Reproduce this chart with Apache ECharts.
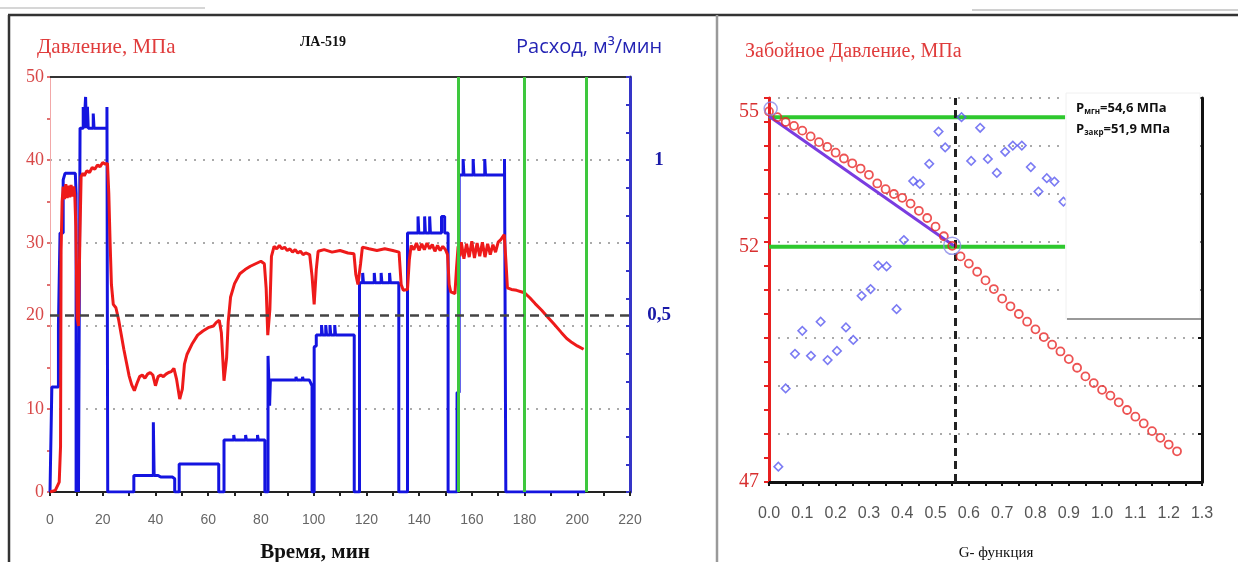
<!DOCTYPE html>
<html><head><meta charset="utf-8">
<script src="https://cdn.jsdelivr.net/npm/echarts@6/dist/echarts.min.js"></script>
<style>html,body{margin:0;padding:0;background:#fff}#c{width:1238px;height:562px}</style>
</head><body><div id="c"></div>
<script>
// ---- Left chart: time (min), pressure (MPa), flow (m3/min)
const pressureData = [
[0,0],[2,0.2],[3.5,1.2],[4,5.5],[4.2,29],[4.6,35],[5,36.8],[5.5,35.3],[6,37.1],[6.5,35.4],[7,36.9],[7.5,35.5],[8,37],[8.5,35.6],[9,36.8],[9.4,35.8],[9.8,32],[10.3,21],[10.8,20],[11.3,30],[11.8,38],[12.5,38.4],[13,38.1],[14,38.7],[15,38.5],[16,39.1],[17,38.9],[18,39.4],[19,39.2],[20,39.7],[21,39.5],[21.8,39.6],[22.3,36],[22.8,30],[23.3,25],[24,22.6],[25,22.2],[26,20.8],[27,19],[28,17.2],[29,15.6],[30,14],[31,12.9],[32,12.2],[33,13.1],[34,13.9],[35,14.1],[36,13.7],[37,14.2],[38,14.4],[39,14.1],[40,12.8],[41,13.9],[42,14.1],[43,13.9],[44,14.2],[45,14.4],[46,14.5],[47,14.9],[48,13.6],[49.2,11.2],[50.2,12.4],[51,15.4],[52,16.6],[54,17.9],[56,18.9],[58,19.4],[60,19.8],[62,20],[63,20.4],[64.2,20.7],[65,19.2],[66,13.4],[67,16.2],[67.6,20.5],[68.5,23.5],[70,25.1],[72,26.3],[74,26.8],[76,27.2],[78,27.5],[80,27.8],[81.3,27.5],[82,24.5],[82.6,18.9],[83.4,22],[84,28.4],[85,29.6],[86,29.3],[87,29.7],[88,29.3],[89,29.5],[90,29.1],[91,29.3],[92,28.9],[93,29.2],[94,28.8],[95,29],[96,28.6],[97,28.8],[98.5,28.6],[99.4,26],[100.2,22.6],[101,26.8],[101.7,29],[104,29.2],[107,28.9],[110,29.1],[113,28.8],[115.3,28.7],[116,26.2],[116.8,25],[117.8,27.5],[118.5,29.5],[121,29.3],[124,29.1],[127,29.3],[130,29.1],[132.4,28.9],[133.2,25],[134,24.3],[135.6,24.4],[136.3,28],[137,29.7],[138,29.2],[139,30],[140,29.1],[141,29.9],[142,29.2],[143,30],[144,29.3],[145,29.8],[146,29],[147,29.7],[148,29.1],[149,29.6],[150,29.2],[150.8,28.6],[151.4,25],[152,24.1],[153.6,23.9],[154.2,27],[154.8,29.6],[155.5,28.4],[156,30.1],[157,28.1],[158,29.9],[159,28.3],[160,30.2],[161,28.2],[162,30],[163,28.4],[164,30.1],[165,28.3],[166,29.9],[167,28.6],[168,29.8],[169,28.9],[170,30.1],[171,30.4],[172.3,31],[172.9,28],[173.5,24.6],[175,24.4],[177,24.3],[179,24.1],[180,24],[182,23.4],[184,22.7],[186.5,21.9],[189,21],[191,20.3],[194,19.2],[196,18.5],[198,18],[200,17.6],[202.4,17.2]
];
const flowData = [
[0,0],[0.7,0],[0.7,0.316],[3.2,0.316],[3.2,0.5],[3.8,0.5],[3.8,0.78],[5,0.78],[5,0.94],[5.7,0.96],[9.6,0.96],[9.9,0.9],[9.9,0],[10.4,0],[10.4,0.2],[10.8,0.2],[10.8,0],[11.4,0],[11.4,1.096],[12.6,1.096],[12.6,1.16],[12.9,1.16],[12.9,1.096],[13.5,1.096],[13.5,1.19],[13.8,1.19],[13.8,1.096],[14.2,1.096],[14.2,1.16],[14.5,1.16],[14.5,1.096],[16.4,1.096],[16.4,1.14],[16.7,1.14],[16.7,1.096],[21.6,1.096],[21.6,1.16],[21.9,1.16],[21.9,0],[31.8,0],[31.8,0.05],[39.2,0.05],[39.2,0.21],[39.5,0.21],[39.5,0.05],[41,0.05],[42,0.045],[46.5,0.045],[47.3,0.04],[47.3,0],[49,0],[49,0.084],[64,0.084],[64,0],[66,0],[66,0.157],[69.7,0.157],[69.7,0.172],[70,0.172],[70,0.157],[74.2,0.157],[74.2,0.172],[74.5,0.172],[74.5,0.157],[78.7,0.157],[78.7,0.172],[79,0.172],[79,0.157],[81.5,0.157],[81.5,0],[82.7,0],[82.7,0.41],[83.3,0.41],[83.3,0.26],[83.6,0.26],[83.6,0.337],[93.3,0.337],[93.3,0.347],[93.6,0.347],[93.6,0.337],[95.8,0.337],[95.8,0.347],[96.1,0.347],[96.1,0.337],[98.4,0.337],[99.4,0.32],[99.4,0],[100.2,0],[100.2,0.437],[101,0.44],[101,0.473],[103,0.473],[103,0.503],[103.3,0.503],[103.3,0.473],[104.6,0.473],[104.6,0.503],[104.9,0.503],[104.9,0.473],[106.2,0.473],[106.2,0.503],[106.5,0.503],[106.5,0.473],[108,0.473],[108,0.503],[108.3,0.503],[108.3,0.473],[115.4,0.473],[115.4,0],[117.4,0],[117.4,0.63],[118.6,0.63],[118.6,0.66],[118.9,0.66],[118.9,0.63],[123,0.63],[123,0.66],[123.3,0.66],[123.3,0.63],[125.6,0.63],[125.6,0.66],[125.9,0.66],[125.9,0.63],[128.8,0.63],[128.8,0.66],[129.1,0.66],[129.1,0.63],[132.3,0.63],[132.3,0],[135.6,0],[135.6,0.78],[139.6,0.78],[139.6,0.83],[139.9,0.83],[139.9,0.78],[142.1,0.78],[142.1,0.83],[142.4,0.83],[142.4,0.78],[144,0.78],[144,0.83],[144.3,0.83],[144.3,0.78],[148.5,0.78],[148.5,0.83],[149.7,0.83],[149.7,0.78],[151,0.78],[151,0],[154.4,0],[154.4,0.3],[155.2,0.3],[155.2,0.955],[156.7,0.955],[156.7,1.003],[157,1.003],[157,0.955],[160.5,0.955],[160.5,1.003],[160.8,1.003],[160.8,0.955],[164.9,0.955],[164.9,1.003],[165.2,1.003],[165.2,0.955],[172.4,0.955],[172.4,1.003],[172.9,1.003],[172.9,0],[203,0]
];
const greenTimes = [155, 180, 203.3];
const refPressureLine = 21.3;

// ---- Right chart: G-function vs bottom-hole pressure
const circleG = [0,0.025,0.05,0.075,0.1,0.125,0.15,0.175,0.2,0.225,0.25,0.275,0.3,0.325,0.35,0.375,0.4,0.425,0.45,0.475,0.5,0.525,0.55,0.575,0.6,0.625,0.65,0.675,0.7,0.725,0.75,0.775,0.8,0.825,0.85,0.875,0.9,0.925,0.95,0.975,1.0,1.025,1.05,1.075,1.1,1.125,1.15,1.175,1.2,1.225];
const circleP = [54.72,54.6,54.5,54.42,54.32,54.2,54.08,53.98,53.86,53.74,53.64,53.53,53.4,53.22,53.1,53.0,52.92,52.8,52.65,52.5,52.32,52.12,51.92,51.7,51.55,51.38,51.2,51.02,50.82,50.66,50.5,50.34,50.18,50.02,49.86,49.72,49.56,49.38,49.2,49.06,48.92,48.8,48.66,48.5,48.36,48.22,48.06,47.92,47.78,47.64];
const diamondG = [0.028,0.05,0.078,0.1,0.126,0.155,0.176,0.204,0.231,0.253,0.278,0.305,0.328,0.353,0.383,0.405,0.433,0.453,0.481,0.509,0.529,0.578,0.607,0.634,0.657,0.684,0.709,0.732,0.759,0.786,0.809,0.834,0.857,0.884];
const diamondP = [47.32,48.95,49.67,50.15,49.63,50.34,49.54,49.73,50.22,49.96,50.88,51.02,51.51,51.49,50.6,52.04,53.27,53.21,53.63,54.3,53.97,54.6,53.69,54.38,53.73,53.44,53.88,54.01,54.01,53.56,53.05,53.33,53.26,52.84];
const pInstant = 54.6;
const pClosure = 51.9;
const gClosure = 0.555;
const greenEndG = 0.889;
const tangentLine = [[0, 54.62], [0.555, 51.92]];
const bigCircles = [[0.005, 54.78], [0.55, 51.92]];

const SERIF = '"Liberation Serif", "DejaVu Serif", serif';
const SANS = '"Liberation Sans", Arial, sans-serif';
const near = (a, b) => Math.abs(a - b) < 1e-6;

const chart = echarts.init(document.getElementById('c'), null, {renderer: 'canvas'});
const dotted = {color: '#aaaaaa', type: [2, 7], width: 2};

const option = {
  animation: false,
  backgroundColor: '#ffffff',
  grid: [
    {left: 50, right: 608, top: 77, bottom: 70},
    {left: 769, right: 36, top: 98, bottom: 80}
  ],
  xAxis: [
    {type: 'value', gridIndex: 0, min: 0, max: 220, interval: 10,
     axisLine: {onZero: false, lineStyle: {color: '#222', width: 2}},
     axisTick: {length: 4, lineStyle: {color: '#222', width: 2}},
     axisLabel: {margin: 21, color: '#666', fontSize: 14, fontFamily: SANS,
       formatter: v => (Math.round(v) % 20 === 0 ? String(Math.round(v)) : '')},
     splitLine: {show: false}},
    {type: 'value', gridIndex: 0, position: 'top', min: 0, max: 220,
     axisLine: {show: true, onZero: false, lineStyle: {color: '#333', width: 2}},
     axisTick: {show: false}, axisLabel: {show: false}, splitLine: {show: false}},
    {type: 'value', gridIndex: 1, min: 0, max: 1.3, interval: 0.05,
     axisLine: {onZero: false, lineStyle: {color: '#111', width: 3}},
     axisTick: {length: 4, lineStyle: {color: '#111', width: 2}},
     axisLabel: {margin: 24, color: '#555', fontSize: 16, fontFamily: SANS,
       formatter: v => (near(v * 10, Math.round(v * 10)) ? v.toFixed(1) : '')},
     splitLine: {show: false}}
  ],
  yAxis: [
    {type: 'value', gridIndex: 0, position: 'left', min: 0, max: 50, interval: 10,
     axisLine: {show: true, onZero: false, lineStyle: {color: '#f2a8a8', width: 1}},
     axisTick: {show: true, length: 3, lineStyle: {color: '#e07070', width: 2}},
     minorTick: {show: true, splitNumber: 2, length: 3, lineStyle: {color: '#e07070', width: 2}},
     axisLabel: {margin: 6, color: '#d84848', fontSize: 18, fontFamily: SERIF,
       formatter: v => (v === 20 ? '{up|20}' : String(v)),
       rich: {up: {color: '#d84848', fontSize: 18, fontFamily: SERIF, padding: [0, 0, 22, 0]}}},
     splitLine: {show: true, lineStyle: dotted}},
    {type: 'value', gridIndex: 0, position: 'right', min: 0, max: 1.25, interval: 1 / 12,
     axisLine: {show: true, onZero: false, lineStyle: {color: '#3535c8', width: 3}},
     axisTick: {show: true, inside: true, length: 4, lineStyle: {color: '#3535c8', width: 2}},
     axisLabel: {margin: 29, align: 'center', color: '#1a1aa8', fontSize: 19, fontWeight: 'bold', fontFamily: SERIF,
       formatter: v => (near(v, 1) ? '1' : (near(v, 0.5) ? '{up|0,5}' : '')),
       rich: {up: {color: '#1a1aa8', fontSize: 19, fontWeight: 'bold', fontFamily: SERIF, padding: [0, 0, 22, 0]}}},
     splitLine: {show: false}},
    {type: 'value', gridIndex: 1, position: 'left', min: 47, max: 55, interval: 1,
     axisLine: {show: true, onZero: false, lineStyle: {color: '#e82020', width: 3}},
     axisTick: {show: true, length: 5, lineStyle: {color: '#e82020', width: 2}},
     minorTick: {show: true, splitNumber: 2, length: 5, lineStyle: {color: '#e82020', width: 2}},
     axisLabel: {margin: 10, color: '#d83030', fontSize: 20, fontFamily: SERIF,
       formatter: v => (v === 55 ? '{a|55}' : (v === 52 ? '{b|52}' : (v === 47 ? '47' : ''))),
       rich: {a: {color: '#d83030', fontSize: 20, fontFamily: SERIF, padding: [28, 0, 0, 0]},
              b: {color: '#d83030', fontSize: 20, fontFamily: SERIF, padding: [10, 0, 0, 0]}}},
     splitLine: {show: true, lineStyle: dotted}},
    {type: 'value', gridIndex: 1, position: 'right', min: 47, max: 55, interval: 1,
     axisLine: {show: true, onZero: false, lineStyle: {color: '#111', width: 3}},
     axisTick: {show: true, inside: true, length: 4, lineStyle: {color: '#111', width: 2}},
     axisLabel: {show: false}, splitLine: {show: false}}
  ],
  series: [
    {name: 'Расход', type: 'line', xAxisIndex: 0, yAxisIndex: 1, data: flowData,
     symbol: 'none', z: 3, lineStyle: {color: '#1414e0', width: 3},
     markLine: {silent: true, symbol: ['none', 'none'], label: {show: false}, z: 5,
       lineStyle: {color: '#3ec83e', width: 3, type: 'solid'},
       data: greenTimes.map(t => ({xAxis: t}))}},
    {name: 'Давление', type: 'line', xAxisIndex: 0, yAxisIndex: 0, data: pressureData,
     symbol: 'none', z: 4, lineStyle: {color: '#ee1a1a', width: 3},
     markLine: {silent: true, symbol: ['none', 'none'], label: {show: false},
       lineStyle: {color: '#444', width: 2.5, type: [9, 6]},
       data: [{yAxis: refPressureLine}]}},
    {type: 'line', xAxisIndex: 2, yAxisIndex: 2, data: [[0, pInstant], [greenEndG, pInstant]],
     symbol: 'none', z: 3, lineStyle: {color: '#2ec82e', width: 4}},
    {type: 'line', xAxisIndex: 2, yAxisIndex: 2, data: [[0, pClosure], [greenEndG, pClosure]],
     symbol: 'none', z: 3, lineStyle: {color: '#2ec82e', width: 4}},
    {type: 'line', xAxisIndex: 2, yAxisIndex: 2, data: tangentLine,
     symbol: 'none', z: 4, lineStyle: {color: '#7a3ce0', width: 3},
     markLine: {silent: true, symbol: ['none', 'none'], label: {show: false},
       lineStyle: {color: '#222', width: 3, type: [8, 5]},
       data: [{xAxis: gClosure}]}},
    {type: 'scatter', xAxisIndex: 2, yAxisIndex: 2,
     data: circleG.map((g, i) => [g, circleP[i]]),
     symbol: 'circle', symbolSize: 8, z: 5,
     itemStyle: {color: 'rgba(255,255,255,0)', borderColor: '#e82828', borderWidth: 1.8}},
    {type: 'scatter', xAxisIndex: 2, yAxisIndex: 2,
     data: diamondG.map((g, i) => [g, diamondP[i]]),
     symbol: 'rect', symbolSize: 6, symbolRotate: 45, z: 5,
     itemStyle: {color: 'rgba(255,255,255,0)', borderColor: '#5a5af0', borderWidth: 1.6}},
    {type: 'scatter', xAxisIndex: 2, yAxisIndex: 2, data: bigCircles,
     symbol: 'circle', symbolSize: (v, p) => (p.dataIndex === 0 ? 13 : 17), z: 6,
     itemStyle: {color: 'rgba(255,255,255,0)', borderColor: '#8a8ae8', borderWidth: 1.5}}
  ],
  graphic: [
    {type: 'line', z: 50, shape: {x1: 0, y1: 8, x2: 205, y2: 8}, style: {stroke: '#c8c8c8', lineWidth: 1.5}},
    {type: 'line', z: 50, shape: {x1: 972, y1: 10, x2: 1238, y2: 10}, style: {stroke: '#c0c0c0', lineWidth: 1.5}},
    {type: 'line', z: 50, shape: {x1: 8, y1: 15, x2: 1238, y2: 15}, style: {stroke: '#333', lineWidth: 2.5}},
    {type: 'line', z: 50, shape: {x1: 9, y1: 15, x2: 9, y2: 562}, style: {stroke: '#333', lineWidth: 2.5}},
    {type: 'line', z: 50, shape: {x1: 717, y1: 15, x2: 717, y2: 562}, style: {stroke: '#9a9a9a', lineWidth: 2.5}},
    {type: 'rect', z: 50, shape: {x: 1066, y: 93, width: 134, height: 226}, style: {fill: '#ffffff', stroke: '#f0f0f0', lineWidth: 1}},
    {type: 'line', z: 51, shape: {x1: 1067, y1: 319, x2: 1201, y2: 319}, style: {stroke: '#999', lineWidth: 2}},
    {type: 'text', z: 52, x: 1076, y: 108, style: {
      text: '{a|P}{s|мгн}{a|=54,6 МПа}', verticalAlign: 'middle', textVerticalAlign: 'middle',
      rich: {a: {fontSize: 13, fontWeight: 'bold', fontFamily: '"Open Sans", sans-serif', fill: '#111', color: '#111'},
             s: {fontSize: 8, fontWeight: 'bold', fontFamily: '"Open Sans", sans-serif', fill: '#111', color: '#111', padding: [7, 0, 0, 0]}}}},
    {type: 'text', z: 52, x: 1076, y: 129, style: {
      text: '{a|P}{s|закр}{a|=51,9 МПа}', verticalAlign: 'middle', textVerticalAlign: 'middle',
      rich: {a: {fontSize: 13, fontWeight: 'bold', fontFamily: '"Open Sans", sans-serif', fill: '#111', color: '#111'},
             s: {fontSize: 8, fontWeight: 'bold', fontFamily: '"Open Sans", sans-serif', fill: '#111', color: '#111', padding: [7, 0, 0, 0]}}}},
    {type: 'text', z: 52, x: 37, y: 47, style: {text: 'Давление, МПа', font: '21px ' + SERIF, fill: '#e03c3c', verticalAlign: 'middle', textVerticalAlign: 'middle'}},
    {type: 'text', z: 52, x: 323, y: 42, style: {text: 'ЛА-519', font: 'bold 14px ' + SERIF, fill: '#111', align: 'center', textAlign: 'center', verticalAlign: 'middle', textVerticalAlign: 'middle'}},
    {type: 'text', z: 52, x: 516, y: 47, style: {text: 'Расход, м³/мин', font: '20px "Open Sans", sans-serif', fill: '#2424b4', verticalAlign: 'middle', textVerticalAlign: 'middle'}},
    {type: 'text', z: 52, x: 315, y: 553, style: {text: 'Время, мин', font: 'bold 21px ' + SERIF, fill: '#111', align: 'center', textAlign: 'center', verticalAlign: 'middle', textVerticalAlign: 'middle'}},
    {type: 'text', z: 52, x: 745, y: 52, style: {text: 'Забойное Давление, МПа', font: '20px ' + SERIF, fill: '#e03c3c', verticalAlign: 'middle', textVerticalAlign: 'middle'}},
    {type: 'text', z: 52, x: 996, y: 553, style: {text: 'G- функция', font: '15px ' + SERIF, fill: '#111', align: 'center', textAlign: 'center', verticalAlign: 'middle', textVerticalAlign: 'middle'}}
  ]
};
chart.setOption(option);
</script></body></html>
